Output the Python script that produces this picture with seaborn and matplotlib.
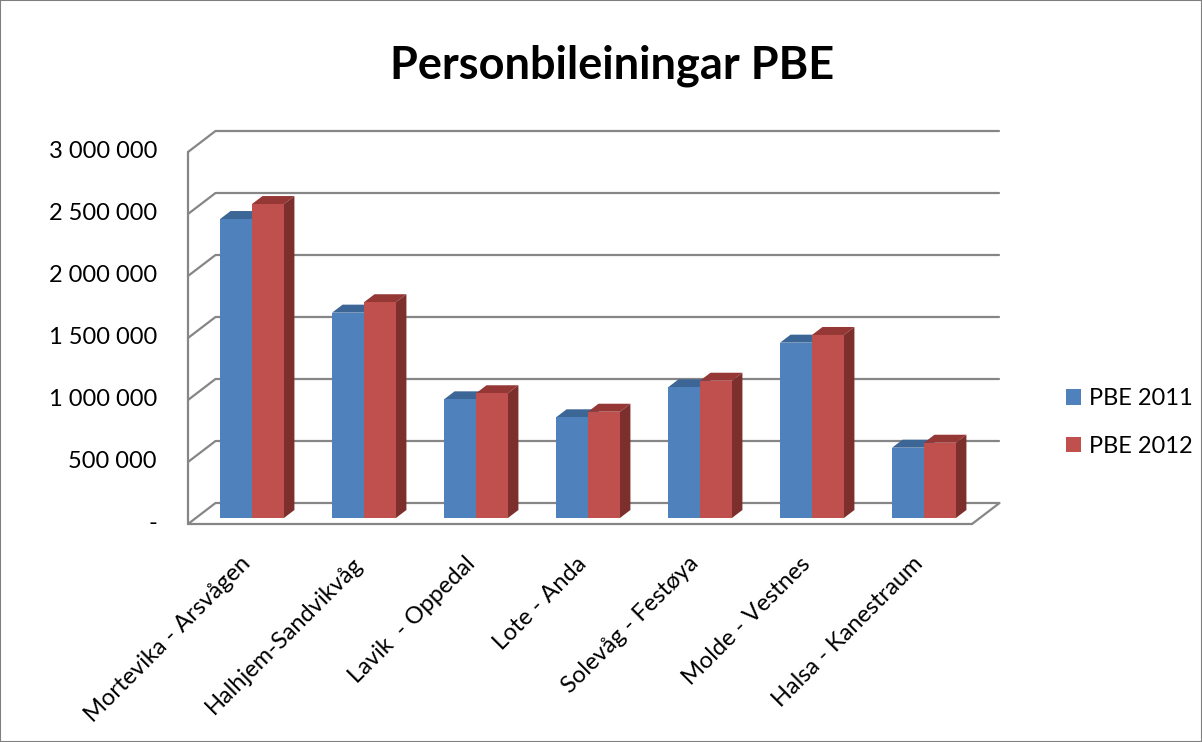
import numpy as np
import pandas as pd
import matplotlib
matplotlib.use("Agg")
import matplotlib.pyplot as plt
import seaborn as sns
from matplotlib.lines import Line2D
from matplotlib.patches import Polygon, Patch, Rectangle
from matplotlib.transforms import IdentityTransform, ScaledTranslation

# data
strekningar = ["Mortevika - Arsvågen", "Halhjem-Sandvikvåg", "Lavik  - Oppedal",
               "Lote - Anda", "Solevåg - Festøya", "Molde - Vestnes", "Halsa - Kanestraum"]
pbe_2011 = [2411000, 1656000, 957000, 812000, 1054000, 1414000, 567000]
pbe_2012 = [2532000, 1740000, 1006000, 857000, 1107000, 1476000, 607000]
serier = ["PBE 2011", "PBE 2012"]
yticks = [0, 500000, 1000000, 1500000, 2000000, 2500000, 3000000]

front_col = ["#4F81BD", "#C0504D"]
top_col = ["#3C6696", "#953735"]
side_col = ["#385D8A", "#7D2F2D"]
grid_col = "#868686"

df = pd.DataFrame({
    "Strekning": strekningar * 2,
    "PBE": pbe_2011 + pbe_2012,
    "Serie": [serier[0]] * len(strekningar) + [serier[1]] * len(strekningar),
})

sns.set_style("white")
plt.rcParams["font.family"] = ["Lato", "DejaVu Sans"]
plt.rcParams["text.color"] = "black"

W, H = 1202, 742
fig = plt.figure(figsize=(W / 100, H / 100), dpi=100)
# axes = plane of the bar front faces
ax = fig.add_axes([196 / W, (H - 518) / H, 784 / W, 372 / H])
ax.patch.set_visible(False)

sns.barplot(data=df, x="Strekning", y="PBE", hue="Serie", palette=front_col,
            width=0.57, saturation=1, legend=False, ax=ax)
ax.set_xlim(-0.5, len(strekningar) - 0.5)
ax.set_ylim(0, 3000000)
ax.set_xlabel("")
ax.set_ylabel("")
ax.set_xticks([])
ax.set_yticks([])
for s in ax.spines.values():
    s.set_visible(False)

# depth offsets (display px) from bar plane to front / back walls, and bar depth
front_off = np.array([-8.0, -6.0])
back_off = np.array([19.5, 15.0])
bar_depth = np.array([10.5, 8.0])

def disp(x, v, off):
    return ax.transData.transform((x, v)) + off

def line(p, q):
    ax.add_line(Line2D([p[0], q[0]], [p[1], q[1]], color=grid_col, lw=1.6,
                       transform=IdentityTransform(), clip_on=False, zorder=0.5))

x0, x1 = ax.get_xlim()
for v in yticks:
    line(disp(x0, v, back_off), disp(x1, v, back_off))
    line(disp(x0, v, front_off), disp(x0, v, back_off))
line(disp(x0, 0, front_off), disp(x0, yticks[-1], front_off))
line(disp(x0, 0, front_off), disp(x1, 0, front_off))
line(disp(x1, 0, front_off), disp(x1, 0, back_off))

# 3D top and side faces of the bars
n = len(strekningar)
for i, p in enumerate(ax.patches[:2 * n]):
    k = i // n
    p.set_zorder(2)
    p.set_edgecolor("none")
    bl = ax.transData.transform((p.get_x(), 0))
    tr = ax.transData.transform((p.get_x() + p.get_width(), p.get_height()))
    dx, dy = bar_depth
    top = [(bl[0], tr[1]), (tr[0], tr[1]), (tr[0] + dx, tr[1] + dy), (bl[0] + dx, tr[1] + dy)]
    side = [(tr[0], bl[1]), (tr[0] + dx, bl[1] + dy), (tr[0] + dx, tr[1] + dy), (tr[0], tr[1])]
    ax.add_patch(Polygon(top, closed=True, facecolor=top_col[k], edgecolor="none",
                         transform=IdentityTransform(), clip_on=False, zorder=1.5))
    ax.add_patch(Polygon(side, closed=True, facecolor=side_col[k], edgecolor="none",
                         transform=IdentityTransform(), clip_on=False, zorder=1.5))

# value labels on the front wall edge
for v in yticks:
    lab = "-" if v == 0 else f"{v:,.0f}".replace(",", " ")
    ax.text(x0, v, lab, ha="right", va="center", fontsize=17, color="black",
            transform=ax.transData + ScaledTranslation(-39 / 100, -6 / 100, fig.dpi_scale_trans))

# category labels
for i, name in enumerate(strekningar):
    ax.text(i, 0, name, rotation=45, ha="right", va="top", rotation_mode="anchor",
            fontsize=17, color="black",
            transform=ax.transData + ScaledTranslation(-12 / 100, -35 / 100, fig.dpi_scale_trans))

handles = [Patch(facecolor=c, edgecolor="none") for c in front_col]
fig.legend(handles, serier, loc="center left", bbox_to_anchor=(1054 / W, 1 - 422.5 / H),
           frameon=False, fontsize=17, handlelength=0.65, handleheight=0.65,
           handletextpad=0.35, labelspacing=1.12, borderpad=0)

fig.text(612 / W, 1 - 66 / H, "Personbileiningar PBE", ha="center", va="center",
         fontsize=32.5, fontweight="bold")

fig.add_artist(Rectangle((0, 0), 1, 1, transform=fig.transFigure, fill=False,
                         edgecolor="#7f7f7f", lw=1.5))

ax.set_xlim(x0, x1)
ax.set_ylim(0, 3000000)
fig.savefig("out.png", dpi=100)
